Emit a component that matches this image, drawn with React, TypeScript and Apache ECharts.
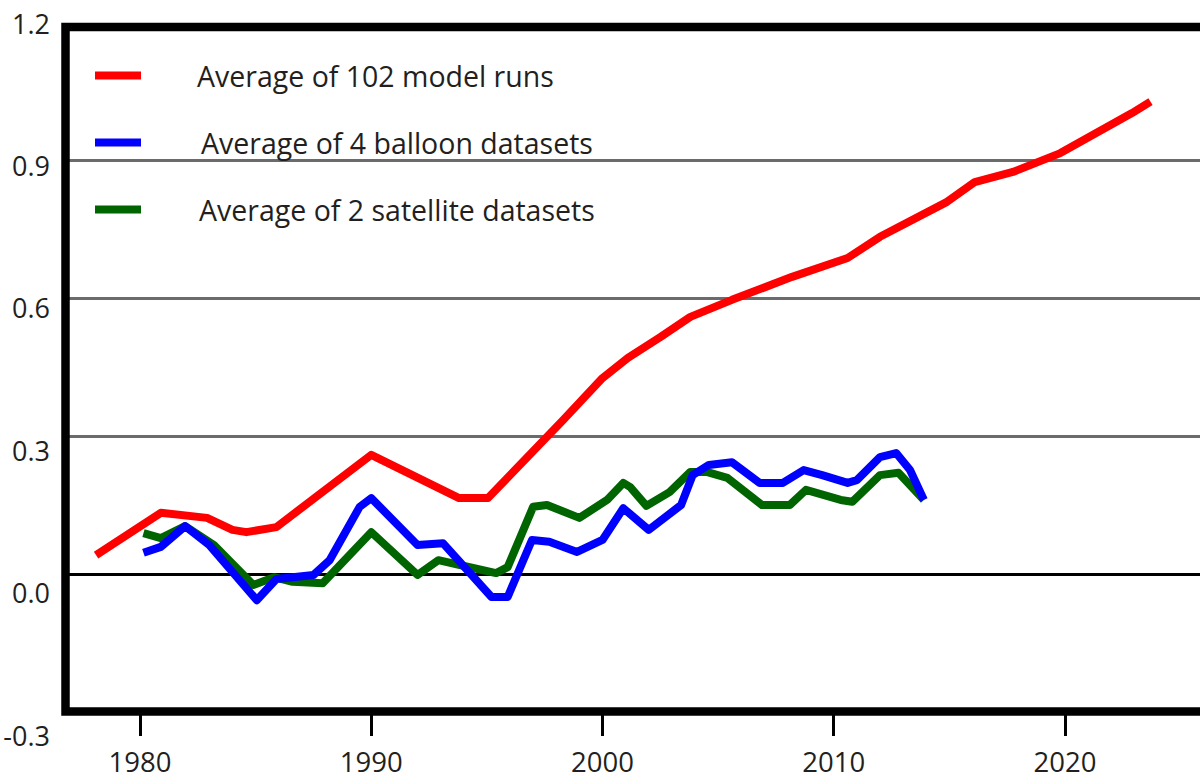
import React, { useEffect, useRef } from "react";
import * as echarts from "echarts";

// Average of 102 model runs
const modelYears = [1978.1, 1980.9, 1982.9, 1984.0, 1984.6, 1985.9, 1990.0, 1993.8, 1995.05, 1998.3, 2000.0, 2001.1, 2002.5, 2003.8, 2005.6, 2008.2, 2010.6, 2012.0, 2014.9, 2016.1, 2017.75, 2019.8, 2022.9, 2023.7];
const modelValues = [0.041, 0.133, 0.122, 0.096, 0.091, 0.102, 0.259, 0.165, 0.165, 0.335, 0.426, 0.47, 0.515, 0.559, 0.596, 0.646, 0.687, 0.733, 0.809, 0.852, 0.874, 0.915, 1.002, 1.027];

// Average of 4 balloon datasets
const balloonYears = [1980.15, 1980.9, 1981.95, 1983.0, 1985.05, 1985.9, 1987.5, 1988.2, 1989.5, 1990.0, 1992.0, 1993.1, 1995.2, 1995.9, 1996.95, 1997.7, 1998.9, 2000.0, 2000.9, 2002.0, 2003.4, 2003.9, 2004.6, 2005.6, 2006.8, 2007.8, 2008.7, 2009.5, 2010.6, 2011.0, 2012.0, 2012.7, 2013.3, 2013.9];
const balloonValues = [0.046, 0.059, 0.104, 0.063, -0.057, -0.011, -0.002, 0.03, 0.146, 0.165, 0.063, 0.067, -0.05, -0.05, 0.074, 0.07, 0.048, 0.074, 0.143, 0.096, 0.15, 0.215, 0.237, 0.243, 0.198, 0.198, 0.226, 0.215, 0.198, 0.204, 0.254, 0.263, 0.226, 0.161];

// Average of 2 satellite datasets
const satelliteYears = [1980.15, 1980.9, 1981.95, 1983.2, 1984.9, 1985.8, 1986.6, 1987.9, 1990.0, 1992.0, 1992.9, 1994.4, 1995.4, 1995.9, 1997.0, 1997.6, 1999.0, 2000.2, 2000.9, 2001.2, 2001.9, 2002.9, 2003.8, 2004.5, 2005.4, 2006.9, 2008.1, 2008.8, 2010.3, 2010.8, 2012.0, 2012.8, 2013.9];
const satelliteValues = [0.089, 0.078, 0.104, 0.063, -0.024, -0.007, -0.017, -0.02, 0.091, -0.002, 0.03, 0.013, 0.002, 0.015, 0.146, 0.15, 0.122, 0.161, 0.198, 0.189, 0.148, 0.178, 0.222, 0.222, 0.209, 0.15, 0.15, 0.183, 0.161, 0.157, 0.215, 0.22, 0.161];

const seriesNames = ["Average of 102 model runs", "Average of 4 balloon datasets", "Average of 2 satellite datasets"];
const xTickYears = [1980, 1990, 2000, 2010, 2020];

const pairs = (xs: number[], ys: number[]) => xs.map((x, i) => [x, ys[i]]);

export default function App() {
  const ref = useRef<HTMLDivElement>(null);
  useEffect(() => {
    if (!ref.current) return;
    const chart = echarts.init(ref.current, null, { renderer: "svg" });
    const font = "'Open Sans', sans-serif";
    const textColor = "#231f20";
    const gray = "#6b6b6b";
    chart.setOption({
      animation: false,
      backgroundColor: "#ffffff",
      textStyle: { fontFamily: font },
      grid: [
        { left: 66, top: 22, right: 0, height: 690 },
        { left: 52, top: 23, width: 10, height: 712 },
      ],
      legend: {
        orient: "vertical",
        left: 90,
        top: 55,
        itemWidth: 46,
        itemHeight: 8,
        itemGap: 36,
        icon: "rect",
        data: [
          { name: seriesNames[0], textStyle: { padding: [0, 0, 0, 51] } },
          { name: seriesNames[1], textStyle: { padding: [0, 0, 0, 55] } },
          { name: seriesNames[2], textStyle: { padding: [0, 0, 0, 53] } },
        ],
        textStyle: { fontSize: 28.5, color: textColor, fontFamily: font, lineHeight: 31 },
      },
      xAxis: [
        {
          type: "value",
          gridIndex: 0,
          min: 1976.8,
          max: 2025.84,
          axisLine: { show: false, onZero: false },
          splitLine: { show: false },
          axisTick: { show: true, length: 24, lineStyle: { color: "#000", width: 3 }, customValues: xTickYears },
          axisLabel: {
            customValues: xTickYears,
            margin: 36,
            fontSize: 27.5,
            lineHeight: 26,
            color: textColor,
            fontFamily: font,
            formatter: (v: number) => String(v),
          },
        },
        { type: "value", gridIndex: 1, show: false, min: 0, max: 1 },
      ],
      yAxis: [
        {
          type: "value",
          gridIndex: 0,
          min: -0.3,
          max: 1.2,
          interval: 0.3,
          axisLine: { show: false, onZero: false },
          axisTick: { show: false },
          axisLabel: { show: false },
          splitLine: {
            show: true,
            lineStyle: { color: ["rgba(0,0,0,0)", "#000000", gray, gray, gray, "rgba(0,0,0,0)"], width: 3 },
          },
        },
        {
          type: "value",
          gridIndex: 1,
          min: -0.3,
          max: 1.2,
          interval: 0.3,
          axisLine: { show: false },
          axisTick: { show: false },
          splitLine: { show: false },
          axisLabel: {
            margin: 2,
            fontSize: 27,
            color: textColor,
            fontFamily: font,
            formatter: (v: number) => v.toFixed(1),
          },
        },
      ],
      graphic: [
        {
          type: "rect",
          silent: true,
          z: 100,
          shape: { x: 65.5, y: 27, width: 1300, height: 684.5 },
          style: { fill: "none", stroke: "#000", lineWidth: 8.5 },
        },
      ],
      series: [
        {
          name: seriesNames[2],
          type: "line",
          xAxisIndex: 0,
          yAxisIndex: 0,
          data: pairs(satelliteYears, satelliteValues),
          symbol: "none",
          itemStyle: { color: "#006400" },
          lineStyle: { color: "#006400", width: 8, cap: "butt", join: "round" },
          z: 3,
        },
        {
          name: seriesNames[1],
          type: "line",
          xAxisIndex: 0,
          yAxisIndex: 0,
          data: pairs(balloonYears, balloonValues),
          symbol: "none",
          itemStyle: { color: "#0000ff" },
          lineStyle: { color: "#0000ff", width: 8, cap: "butt", join: "round" },
          z: 4,
        },
        {
          name: seriesNames[0],
          type: "line",
          xAxisIndex: 0,
          yAxisIndex: 0,
          data: pairs(modelYears, modelValues),
          symbol: "none",
          itemStyle: { color: "#ff0000" },
          lineStyle: { color: "#ff0000", width: 8, cap: "butt", join: "round" },
          z: 5,
        },
      ],
    });
    return () => chart.dispose();
  }, []);
  return <div ref={ref} style={{ position: "fixed", left: 0, top: 0, width: 1200, height: 778 }} />;
}
